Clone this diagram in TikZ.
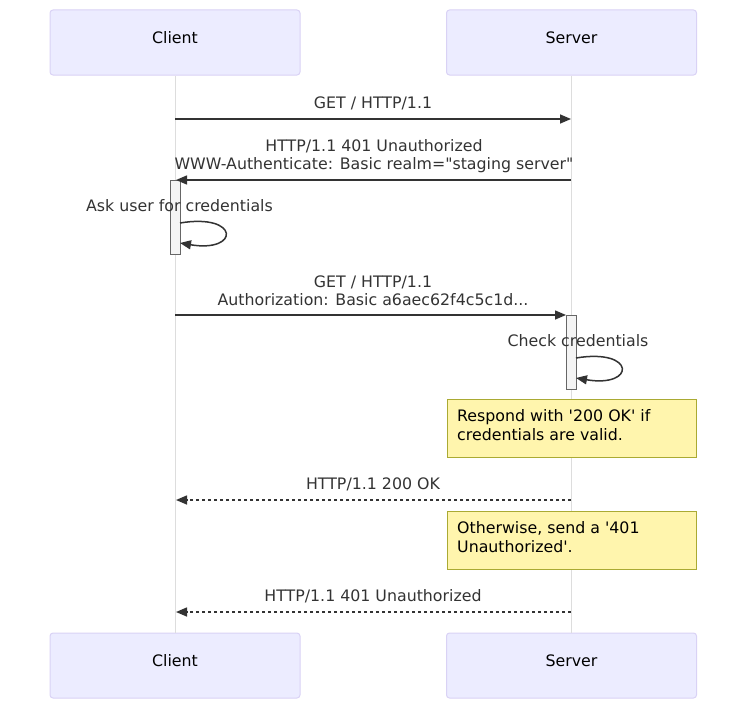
\documentclass[tikz,border=0pt]{standalone}
\usepackage{fontspec}
\setmainfont{DejaVu Sans}[Ligatures=TeXOff]
\usetikzlibrary{arrows.meta}
\definecolor{actfill}{HTML}{ECECFF}
\definecolor{actline}{HTML}{D9D2F5}
\definecolor{txt}{HTML}{333333}
\definecolor{lifec}{HTML}{DDDDDD}
\definecolor{notefill}{HTML}{FFF5AD}
\definecolor{noteline}{HTML}{AAAA33}
\definecolor{actvfill}{HTML}{F4F4F4}
\definecolor{actvline}{HTML}{666666}
\begin{document}
\begin{tikzpicture}[x=1pt,y=-1pt, font=\fontsize{15.8}{19}\selectfont,
 actor/.style={draw=actline, fill=actfill, rounded corners=3pt, minimum width=250pt, minimum height=65pt, inner sep=0pt, line width=1pt, text=black, text height=11.5pt, text depth=10pt},
 lifeline/.style={draw=lifec, line width=1pt},
 msg/.style={draw=txt, line width=1.5pt, -{Triangle[length=11pt,width=9pt]}},
 reply/.style={msg, dash pattern=on 3pt off 3pt},
 lbl/.style={text=txt, inner sep=0pt, anchor=base},
 note/.style={draw=noteline, fill=notefill, line width=1pt, minimum width=249pt, minimum height=58pt, inner sep=0pt, anchor=north west},
 notetxt/.style={text=black, inner sep=0pt, anchor=base west, align=left},
 actv/.style={draw=actvline, fill=actvfill, line width=1pt, minimum width=10pt, inner sep=0pt}]
\useasboundingbox (0,0) rectangle (752,709);
% actors
\node[actor] (ct) at (175,42.5) {Client};
\node[actor] (st) at (571.5,42.5) {Server};
\node[actor] (cb) at (175,665.5) {Client};
\node[actor] (sb) at (571.5,665.5) {Server};
% lifelines
\draw[lifeline] (ct.south) -- (cb.north);
\draw[lifeline] (st.south) -- (sb.north);
% activations
\node[actv, minimum height=74pt] (ca) at (175,217) {};
\node[actv, minimum height=74pt] (sa) at (571,352) {};
% message 1
\coordinate (m1c) at (175,119);
\coordinate (m1s) at (571,119);
\draw[msg] (m1c) -- (m1s);
\node[lbl] (l1) at (373,108) {GET / HTTP/1.1};
% message 2
\coordinate (m2s) at (571,180);
\coordinate (m2c) at (176,180);
\draw[msg] (m2s) -- (m2c);
\node[lbl] (l2a) at (374,151) {HTTP/1.1 401 Unauthorized};
\node[lbl] (l2b) at (374,169.5) {WWW-Authenticate: Basic realm="staging server"};
% self loop 1
\coordinate (s1a) at (180,223);
\coordinate (s1b) at (180,243);
\draw[msg] (s1a) .. controls (240,213) and (240,253) .. (s1b);
\node[lbl] (ls1) at (179.5,211) {Ask user for credentials};
% message 3
\coordinate (m3c) at (175,315);
\coordinate (m3s) at (566,315);
\draw[msg] (m3c) -- (m3s);
\node[lbl] (l3a) at (373,287) {GET / HTTP/1.1};
\node[lbl] (l3b) at (373,305.5) {Authorization: Basic a6aec62f4c5c1d...};
% self loop 2
\coordinate (s2a) at (576,358);
\coordinate (s2b) at (576,378);
\draw[msg] (s2a) .. controls (636,348) and (636,388) .. (s2b);
\node[lbl] (ls2) at (578,346) {Check credentials};
% note 1
\node[note] (n1) at (447,399) {};
\node[notetxt] (n1t) at (457,440) {Respond with '200 OK' if\\credentials are valid.};
% message 4
\coordinate (m4s) at (571,500);
\coordinate (m4c) at (176,500);
\draw[reply] (m4s) -- (m4c);
\node[lbl] (l4) at (373,489) {HTTP/1.1 200 OK};
% note 2
\node[note] (n2) at (447,511) {};
\node[notetxt] (n2t) at (457,552) {Otherwise, send a '401\\Unauthorized'.};
% message 5
\coordinate (m5s) at (571,612);
\coordinate (m5c) at (176,612);
\draw[reply] (m5s) -- (m5c);
\node[lbl] (l5) at (373,601) {HTTP/1.1 401 Unauthorized};
\end{tikzpicture}
\end{document}
